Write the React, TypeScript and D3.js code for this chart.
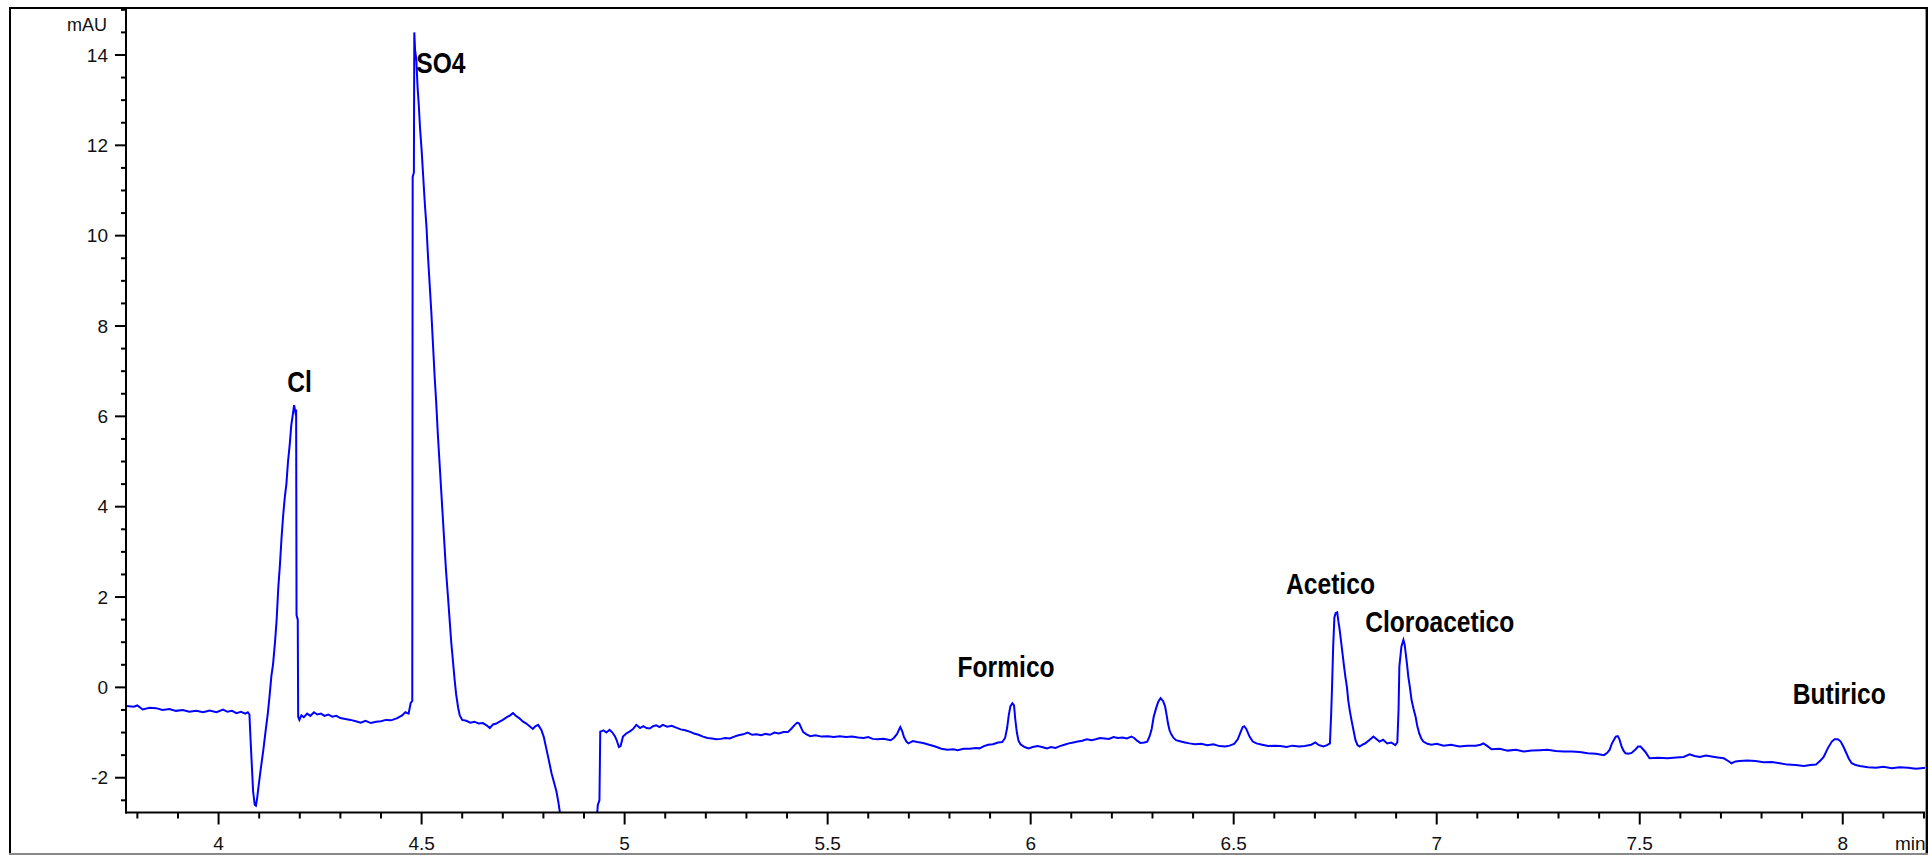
import React from 'react';
import * as d3 from 'd3';

const W = 1929;
const H = 855;

const xTickValues = [4, 4.5, 5, 5.5, 6, 6.5, 7, 7.5, 8];
const xTickLabels = ['4', '4.5', '5', '5.5', '6', '6.5', '7', '7.5', '8'];
const yTickValues = [-2, 0, 2, 4, 6, 8, 10, 12, 14];
const yTickLabels = ['-2', '0', '2', '4', '6', '8', '10', '12', '14'];

const peakNames = ['Cl', 'SO4', 'Formico', 'Acetico', 'Cloroacetico', 'Butirico'];
const peakLabelTime = [4.169, 4.487, 5.82, 6.629, 6.824, 7.877];
const peakLabelMAU = [6.55, 13.61, 0.22, 2.06, 1.23, -0.37];

// [time (min), signal (mAU)]
const chromatogram: [number, number][] = [
  [3.773, -0.41], [3.791, -0.43], [3.8, -0.4], [3.813, -0.49], [3.83, -0.45], [3.846, -0.46],
  [3.862, -0.5], [3.879, -0.48], [3.895, -0.52], [3.912, -0.5], [3.928, -0.54], [3.945, -0.52],
  [3.962, -0.55], [3.978, -0.51], [3.995, -0.55], [4.011, -0.49], [4.022, -0.54], [4.033, -0.52],
  [4.044, -0.57], [4.055, -0.54], [4.066, -0.58], [4.072, -0.55], [4.076, -0.6],
  [4.079, -1.2], [4.082, -1.75], [4.085, -2.3], [4.089, -2.6], [4.092, -2.62], [4.095, -2.45],
  [4.099, -2.15], [4.104, -1.8], [4.11, -1.4], [4.116, -0.95], [4.121, -0.6], [4.126, -0.15],
  [4.13, 0.25], [4.134, 0.5], [4.139, 1.0], [4.143, 1.5], [4.147, 2.2], [4.151, 2.7],
  [4.155, 3.3], [4.159, 3.8], [4.163, 4.2], [4.167, 4.5], [4.171, 5.0], [4.175, 5.35],
  [4.179, 5.8], [4.183, 6.05], [4.186, 6.25], [4.189, 6.1], [4.191, 6.15], [4.192, 1.6],
  [4.195, 1.5], [4.196, -0.65],
  [4.199, -0.72], [4.204, -0.62], [4.21, -0.66], [4.218, -0.58], [4.226, -0.63], [4.235, -0.55],
  [4.243, -0.6], [4.252, -0.58], [4.261, -0.63], [4.27, -0.6], [4.28, -0.65], [4.29, -0.63],
  [4.3, -0.68], [4.312, -0.7], [4.325, -0.72], [4.338, -0.75], [4.35, -0.78], [4.362, -0.74],
  [4.375, -0.79], [4.388, -0.76], [4.4, -0.75], [4.412, -0.72], [4.425, -0.73], [4.44, -0.68],
  [4.452, -0.62], [4.46, -0.55], [4.468, -0.58], [4.473, -0.35], [4.477, -0.3],
  [4.478, 11.3], [4.481, 11.4], [4.482, 14.5], [4.484, 14.1], [4.487, 13.9], [4.49, 13.3],
  [4.493, 12.9], [4.496, 12.4], [4.5, 11.9], [4.504, 11.3], [4.508, 10.7], [4.512, 10.2],
  [4.516, 9.5], [4.52, 8.9], [4.524, 8.3], [4.528, 7.6], [4.532, 6.9], [4.536, 6.3],
  [4.54, 5.6], [4.544, 5.0], [4.548, 4.4], [4.552, 3.8], [4.556, 3.2], [4.56, 2.6],
  [4.565, 2.0], [4.569, 1.5], [4.573, 1.0], [4.577, 0.6], [4.581, 0.2], [4.585, -0.15],
  [4.59, -0.45], [4.594, -0.62], [4.6, -0.72], [4.61, -0.74], [4.62, -0.78], [4.63, -0.76],
  [4.64, -0.8], [4.651, -0.79], [4.66, -0.84], [4.668, -0.9], [4.676, -0.82], [4.684, -0.8],
  [4.692, -0.76], [4.7, -0.72], [4.71, -0.66], [4.718, -0.62], [4.725, -0.57], [4.732, -0.63],
  [4.74, -0.68], [4.75, -0.76], [4.758, -0.8], [4.766, -0.86], [4.774, -0.92], [4.78, -0.86],
  [4.787, -0.83], [4.795, -0.94], [4.801, -1.1], [4.807, -1.35], [4.813, -1.6], [4.82, -1.9],
  [4.826, -2.1], [4.832, -2.3], [4.837, -2.55], [4.842, -2.85], [4.86, -3.4], [4.9, -3.8],
  [4.93, -3.1], [4.934, -2.6], [4.938, -2.5], [4.94, -0.98], [4.948, -0.95], [4.955, -1.0],
  [4.963, -0.94], [4.97, -1.0], [4.976, -1.08], [4.98, -1.16], [4.986, -1.32], [4.99, -1.3],
  [4.996, -1.09], [5.004, -1.02], [5.012, -0.98], [5.02, -0.93], [5.029, -0.83], [5.038, -0.9],
  [5.046, -0.86], [5.054, -0.9], [5.062, -0.91], [5.07, -0.86], [5.078, -0.84], [5.086, -0.88],
  [5.094, -0.83], [5.105, -0.87], [5.116, -0.85], [5.127, -0.89], [5.138, -0.93], [5.149, -0.95],
  [5.16, -0.98], [5.171, -1.02], [5.182, -1.05], [5.193, -1.09], [5.204, -1.12], [5.215, -1.13],
  [5.226, -1.15], [5.237, -1.14], [5.248, -1.12], [5.259, -1.13], [5.27, -1.09], [5.28, -1.06],
  [5.292, -1.04], [5.303, -1.0], [5.314, -1.05], [5.325, -1.04], [5.336, -1.06], [5.347, -1.03],
  [5.358, -1.05], [5.369, -1.0], [5.38, -1.02], [5.391, -0.99], [5.402, -0.99], [5.41, -0.92],
  [5.419, -0.83], [5.425, -0.78], [5.43, -0.8], [5.436, -0.92], [5.44, -0.99], [5.448, -1.04],
  [5.457, -1.08], [5.47, -1.06], [5.485, -1.09], [5.501, -1.08], [5.515, -1.1], [5.53, -1.08],
  [5.545, -1.1], [5.56, -1.09], [5.575, -1.11], [5.589, -1.12], [5.6, -1.1], [5.611, -1.14],
  [5.622, -1.15], [5.638, -1.14], [5.655, -1.17], [5.663, -1.12], [5.671, -1.03], [5.676, -0.93],
  [5.679, -0.88], [5.684, -0.98], [5.688, -1.1], [5.694, -1.2], [5.699, -1.24], [5.71, -1.19],
  [5.721, -1.21], [5.735, -1.23], [5.75, -1.27], [5.765, -1.31], [5.78, -1.36], [5.795, -1.38],
  [5.81, -1.37], [5.82, -1.39], [5.835, -1.36], [5.85, -1.36], [5.865, -1.34], [5.874, -1.35],
  [5.885, -1.3], [5.895, -1.27], [5.907, -1.26], [5.92, -1.22], [5.93, -1.21], [5.937, -1.12],
  [5.942, -0.9], [5.946, -0.62], [5.95, -0.42], [5.955, -0.35], [5.959, -0.4], [5.962, -0.7],
  [5.966, -1.0], [5.97, -1.18], [5.975, -1.26], [5.985, -1.32], [5.995, -1.35], [6.005, -1.32],
  [6.017, -1.3], [6.028, -1.32], [6.04, -1.35], [6.05, -1.32], [6.061, -1.34], [6.072, -1.3],
  [6.083, -1.27], [6.094, -1.24], [6.105, -1.22], [6.116, -1.2], [6.127, -1.18], [6.138, -1.15],
  [6.15, -1.17], [6.16, -1.15], [6.171, -1.12], [6.182, -1.13], [6.193, -1.14], [6.204, -1.1],
  [6.215, -1.12], [6.226, -1.11], [6.237, -1.13], [6.248, -1.09], [6.255, -1.12], [6.262, -1.18],
  [6.27, -1.23], [6.28, -1.22], [6.287, -1.2], [6.293, -1.08], [6.298, -0.92], [6.303, -0.65],
  [6.309, -0.46], [6.314, -0.32], [6.32, -0.24], [6.326, -0.3], [6.331, -0.42], [6.335, -0.62],
  [6.338, -0.79], [6.342, -0.95], [6.347, -1.05], [6.352, -1.12], [6.358, -1.17], [6.37, -1.2],
  [6.38, -1.22], [6.391, -1.24], [6.405, -1.26], [6.42, -1.25], [6.435, -1.28], [6.45, -1.26],
  [6.465, -1.3], [6.479, -1.31], [6.49, -1.29], [6.501, -1.25], [6.51, -1.15], [6.517, -0.99],
  [6.522, -0.88], [6.526, -0.86], [6.531, -0.92], [6.539, -1.09], [6.547, -1.2], [6.556, -1.24],
  [6.57, -1.27], [6.585, -1.3], [6.6, -1.29], [6.615, -1.3], [6.63, -1.32], [6.645, -1.29],
  [6.661, -1.31], [6.675, -1.3], [6.691, -1.27], [6.701, -1.22], [6.71, -1.28], [6.721, -1.31],
  [6.73, -1.28], [6.737, -1.24], [6.74, -0.6], [6.742, -0.06], [6.745, 0.9], [6.748, 1.55],
  [6.751, 1.64], [6.755, 1.66], [6.758, 1.45], [6.76, 1.34], [6.764, 1.05], [6.768, 0.75],
  [6.772, 0.45], [6.775, 0.24], [6.779, 0.0], [6.782, -0.28], [6.786, -0.52], [6.79, -0.72],
  [6.795, -0.95], [6.8, -1.17], [6.805, -1.28], [6.81, -1.31], [6.817, -1.27], [6.824, -1.24],
  [6.832, -1.18], [6.84, -1.12], [6.844, -1.09], [6.85, -1.13], [6.859, -1.2], [6.868, -1.16],
  [6.878, -1.24], [6.888, -1.22], [6.898, -1.28], [6.903, -1.22], [6.906, -0.5], [6.908, 0.46],
  [6.913, 0.9], [6.918, 1.05], [6.921, 0.95], [6.923, 0.8], [6.927, 0.5], [6.93, 0.24],
  [6.934, 0.0], [6.938, -0.28], [6.943, -0.48], [6.948, -0.65], [6.952, -0.85], [6.957, -1.02],
  [6.962, -1.13], [6.967, -1.2], [6.977, -1.25], [6.987, -1.27], [7.0, -1.25], [7.017, -1.29],
  [7.035, -1.27], [7.056, -1.31], [7.075, -1.29], [7.096, -1.29], [7.108, -1.27], [7.115, -1.24],
  [7.125, -1.3], [7.135, -1.37], [7.155, -1.36], [7.175, -1.4], [7.195, -1.38], [7.214, -1.42],
  [7.234, -1.4], [7.254, -1.39], [7.273, -1.38], [7.293, -1.41], [7.313, -1.42], [7.333, -1.42],
  [7.352, -1.43], [7.372, -1.46], [7.392, -1.47], [7.412, -1.5], [7.42, -1.45], [7.426, -1.38],
  [7.431, -1.25], [7.436, -1.17], [7.441, -1.09], [7.446, -1.08], [7.45, -1.15], [7.455, -1.3],
  [7.46, -1.4], [7.465, -1.46], [7.472, -1.47], [7.48, -1.45], [7.49, -1.37], [7.496, -1.31],
  [7.502, -1.31], [7.508, -1.37], [7.514, -1.43], [7.524, -1.57], [7.545, -1.56], [7.569, -1.57],
  [7.59, -1.55], [7.608, -1.54], [7.623, -1.48], [7.635, -1.52], [7.648, -1.54], [7.663, -1.51],
  [7.677, -1.53], [7.692, -1.55], [7.707, -1.57], [7.718, -1.63], [7.726, -1.68], [7.736, -1.64],
  [7.746, -1.63], [7.765, -1.62], [7.785, -1.63], [7.805, -1.66], [7.825, -1.65], [7.845, -1.68],
  [7.864, -1.71], [7.884, -1.72], [7.904, -1.74], [7.92, -1.72], [7.934, -1.71], [7.945, -1.62],
  [7.953, -1.54], [7.963, -1.35], [7.973, -1.2], [7.98, -1.15], [7.988, -1.15], [7.995, -1.2],
  [8.002, -1.32], [8.007, -1.42], [8.015, -1.58], [8.022, -1.68], [8.032, -1.72], [8.042, -1.74],
  [8.062, -1.77], [8.082, -1.78], [8.1, -1.76], [8.121, -1.79], [8.14, -1.77], [8.161, -1.78],
  [8.18, -1.8], [8.205, -1.78],
];

export default function App() {
  const left = 126;
  const right = 1926;
  const top = 8;
  const bottom = 812.5;

  const x = d3.scaleLinear().domain([3.772, 8.205]).range([left, right]);
  const y = d3.scaleLinear().domain([-2.77, 15.04]).range([bottom, top]);

  const line = d3
    .line<[number, number]>()
    .x((d) => x(d[0]))
    .y((d) => y(d[1]));

  const xMinor = d3
    .range(38, 83)
    .map((i) => i / 10)
    .filter((v) => Math.abs(v * 2 - Math.round(v * 2)) > 1e-6);
  const yMinor = d3
    .range(-5, 31)
    .map((i) => i / 2)
    .filter((v) => Math.abs(v / 2 - Math.round(v / 2)) > 1e-6);

  const tickFont = '"Liberation Sans", Arial, sans-serif';

  return (
    <svg
      width={W}
      height={H}
      viewBox={`0 0 ${W} ${H}`}
      style={{ position: 'absolute', left: 0, top: 0, display: 'block', background: '#fff' }}
    >
      <defs>
        <clipPath id="plotClip">
          <rect x={left} y={top} width={right - left} height={bottom - top} />
        </clipPath>
      </defs>
      <rect x={0} y={0} width={W} height={H} fill="#fff" />

      {/* trace */}
      <g clipPath="url(#plotClip)">
        <path d={line(chromatogram) || ''} fill="none" stroke="#0000ff" strokeWidth={2} />
      </g>

      {/* y axis */}
      <line x1={left} x2={left} y1={top} y2={bottom + 1} stroke="#000" strokeWidth={2} />
      {yMinor.map((v) => (
        <line key={'ym' + v} x1={left - 5} x2={left} y1={y(v)} y2={y(v)} stroke="#000" strokeWidth={2} />
      ))}
      {yTickValues.map((v, i) => (
        <g key={'y' + v}>
          <line x1={left - 11} x2={left} y1={y(v)} y2={y(v)} stroke="#000" strokeWidth={2} />
          <text
            x={108}
            y={y(v)}
            dy="0.35em"
            textAnchor="end"
            fontFamily={tickFont}
            fontSize={19}
            fill="#111"
          >
            {yTickLabels[i]}
          </text>
        </g>
      ))}
      <text x={107} y={31} textAnchor="end" fontFamily={tickFont} fontSize={18} fill="#111">
        mAU
      </text>

      {/* x axis */}
      <line x1={left - 1} x2={right} y1={bottom} y2={bottom} stroke="#000" strokeWidth={2} />
      {xMinor.map((v) => (
        <line key={'xm' + v} x1={x(v)} x2={x(v)} y1={bottom} y2={bottom + 6} stroke="#000" strokeWidth={2} />
      ))}
      {xTickValues.map((v, i) => (
        <g key={'x' + v}>
          <line x1={x(v)} x2={x(v)} y1={bottom} y2={bottom + 12} stroke="#000" strokeWidth={2} />
          <text x={x(v)} y={850} textAnchor="middle" fontFamily={tickFont} fontSize={19} fill="#111">
            {xTickLabels[i]}
          </text>
        </g>
      ))}
      <text x={1895} y={850} fontFamily={tickFont} fontSize={19} fill="#111">
        min
      </text>

      {/* peak labels */}
      {peakNames.map((name, i) => (
        <text
          key={name}
          transform={`translate(${x(peakLabelTime[i])},${y(peakLabelMAU[i])}) scale(0.82,1)`}
          fontFamily={tickFont}
          fontWeight="bold"
          fontSize={30}
          fill="#000"
        >
          {name}
        </text>
      ))}

      {/* outer frame */}
      <line x1={9} x2={1928} y1={8} y2={8} stroke="#000" strokeWidth={2} />
      <line x1={10} x2={10} y1={7} y2={854} stroke="#000" strokeWidth={2} />
      <line x1={1927} x2={1927} y1={7} y2={854} stroke="#000" strokeWidth={2} />
      <line x1={1925.5} x2={1925.5} y1={9} y2={853} stroke="#999" strokeWidth={1} />
      <line x1={9} x2={1928} y1={854} y2={854} stroke="#888" strokeWidth={2} />
    </svg>
  );
}
